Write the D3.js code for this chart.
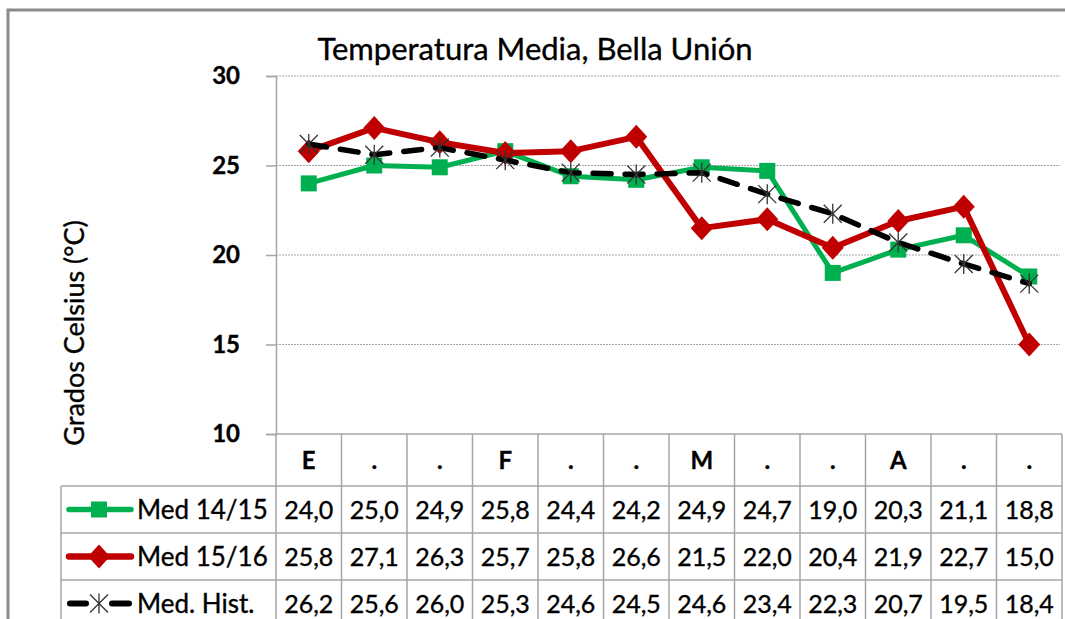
<!DOCTYPE html>
<html>
<head>
<meta charset="utf-8">
<script src="https://cdn.jsdelivr.net/npm/d3@7"></script>
<style>
  body { margin: 0; background: #fff; }
  text { font-family: Lato, "Open Sans", sans-serif; stroke: #000; stroke-width: 0.35px; }
</style>
</head>
<body>
<div id="chart"></div>
<script>
// categories (decades of months) and series
var cats = ["E", ".", ".", "F", ".", ".", "M", ".", ".", "A", ".", "."];
var med1415 = [24.0, 25.0, 24.9, 25.8, 24.4, 24.2, 24.9, 24.7, 19.0, 20.3, 21.1, 18.8];
var med1516 = [25.8, 27.1, 26.3, 25.7, 25.8, 26.6, 21.5, 22.0, 20.4, 21.9, 22.7, 15.0];
var medHist = [26.2, 25.6, 26.0, 25.3, 24.6, 24.5, 24.6, 23.4, 22.3, 20.7, 19.5, 18.4];
var yTicks = [10, 15, 20, 25, 30];
var seriesNames = ["Med 14/15", "Med 15/16", "Med. Hist."];

var W = 1065, H = 619;
var plotL = 276, plotR = 1062, plotT = 76, plotB = 434;
var rowH = 47, headH = 52;

var svg = d3.select("#chart").append("svg")
    .attr("width", W).attr("height", H);

// outer frame
svg.append("rect")
    .attr("x", 8).attr("y", 10)
    .attr("width", 1070).attr("height", 640)
    .attr("fill", "none")
    .attr("stroke", "#8a8a8a")
    .attr("stroke-width", 3);

var x = d3.scaleBand().domain(d3.range(cats.length)).range([plotL, plotR]).padding(0);
var y = d3.scaleLinear().domain([10, 30]).range([plotB, plotT]);
var cx = i => x(i) + x.bandwidth() / 2;

// title
svg.append("text")
    .attr("x", 535).attr("y", 60)
    .attr("text-anchor", "middle")
    .attr("font-size", 31)
    .text("Temperatura Media, Bella Unión");

// grid lines
svg.append("g").selectAll("line")
    .data(yTicks.filter(d => d > 10))
    .enter().append("line")
    .attr("x1", plotL).attr("x2", 1060)
    .attr("y1", d => y(d)).attr("y2", d => y(d))
    .attr("stroke", "#a6a6a6")
    .attr("stroke-width", 1)
    .attr("stroke-dasharray", "2,1");

// y axis
var yAxis = svg.append("g")
    .attr("transform", "translate(" + plotL + ",0)")
    .call(d3.axisLeft(y).tickValues(yTicks).tickSize(10).tickPadding(26).tickFormat(d3.format("d")));
yAxis.select(".domain").attr("stroke", "#a6a6a6").attr("stroke-width", 1.5);
yAxis.selectAll(".tick line").attr("stroke", "#a6a6a6").attr("stroke-width", 1.5);
yAxis.selectAll(".tick text")
    .attr("font-size", 24).attr("font-weight", "bold")
    .attr("fill", "#000")
    .style("font-family", "Lato, sans-serif");

// y axis title
svg.append("text")
    .attr("transform", "translate(84,333) rotate(-90)")
    .attr("text-anchor", "middle")
    .attr("font-size", 27)
    .text("Grados Celsius (°C)");

// data table lines
var tbl = svg.append("g").attr("stroke", "#a6a6a6").attr("stroke-width", 1.5);
tbl.append("line").attr("x1", plotL).attr("x2", plotR).attr("y1", plotB).attr("y2", plotB);
for (var r = 0; r <= 3; r++) {
    var yy = plotB + headH + r * rowH;
    tbl.append("line").attr("x1", 61).attr("x2", plotR).attr("y1", yy).attr("y2", yy);
}
d3.range(cats.length + 1).forEach(function (i) {
    var xx = i < cats.length ? x(i) : plotR;
    tbl.append("line").attr("x1", xx).attr("x2", xx).attr("y1", plotB).attr("y2", H + 10);
});
tbl.append("line").attr("x1", 61).attr("x2", 61).attr("y1", plotB + headH).attr("y2", H + 10);

// header (categories)
svg.append("g").selectAll("text")
    .data(cats).enter().append("text")
    .attr("x", (d, i) => cx(i))
    .attr("y", plotB + headH / 2 + 9)
    .attr("text-anchor", "middle")
    .attr("font-size", 24)
    .attr("font-weight", "bold")
    .text(d => d);

// series
var series = [
    { name: seriesNames[0], values: med1415, color: "#00b050", width: 5, dash: null, marker: "square" },
    { name: seriesNames[1], values: med1516, color: "#c00000", width: 6, dash: null, marker: "diamond" },
    { name: seriesNames[2], values: medHist, color: "#000", width: 5.5, dash: "18,14", marker: "star" }
];

var line = d3.line().x((d, i) => cx(i)).y(d => y(d));

function drawMarker(g, type, px, py, color) {
    if (type === "square") {
        g.append("rect").attr("x", px - 8).attr("y", py - 8)
            .attr("width", 16).attr("height", 16).attr("fill", color);
    } else if (type === "diamond") {
        g.append("path")
            .attr("d", "M" + px + "," + (py - 12) + "L" + (px + 11) + "," + py + "L" + px + "," + (py + 12) + "L" + (px - 11) + "," + py + "Z")
            .attr("fill", color);
    } else {
        var s = 9;
        g.append("path")
            .attr("d", "M" + (px - s) + "," + (py - s) + "L" + (px + s) + "," + (py + s) +
                "M" + (px - s) + "," + (py + s) + "L" + (px + s) + "," + (py - s) +
                "M" + px + "," + (py - s - 1) + "L" + px + "," + (py + s + 1))
            .attr("stroke", "#333").attr("stroke-width", 1.3).attr("fill", "none");
    }
}

series.forEach(function (s) {
    var g = svg.append("g");
    g.append("path")
        .datum(s.values)
        .attr("d", line)
        .attr("fill", "none")
        .attr("stroke", s.color)
        .attr("stroke-width", s.width)
        .attr("stroke-linejoin", "round")
        .attr("stroke-linecap", "round")
        .attr("stroke-dasharray", s.dash);
    s.values.forEach(function (v, i) { drawMarker(g, s.marker, cx(i), y(v), s.color); });
});

// table rows: legend keys and values
var fmt = v => v.toFixed(1).replace(".", ",");
series.forEach(function (s, r) {
    var rowMid = plotB + headH + r * rowH + rowH / 2;
    var g = svg.append("g");
    if (s.dash) {
        g.append("line").attr("x1", 70).attr("x2", 86).attr("y1", rowMid).attr("y2", rowMid)
            .attr("stroke", s.color).attr("stroke-width", s.width + 0.5).attr("stroke-linecap", "round");
        g.append("line").attr("x1", 112).attr("x2", 129).attr("y1", rowMid).attr("y2", rowMid)
            .attr("stroke", s.color).attr("stroke-width", s.width + 0.5).attr("stroke-linecap", "round");
    } else {
        g.append("line")
            .attr("x1", 69).attr("x2", 131)
            .attr("y1", rowMid).attr("y2", rowMid)
            .attr("stroke", s.color).attr("stroke-width", s.width + 0.5)
            .attr("stroke-linecap", "round");
    }
    drawMarker(g, s.marker, 99, rowMid, s.color);
    g.append("text")
        .attr("x", 137).attr("y", rowMid + 9)
        .attr("font-size", 26)
        .text(s.name);
    g.selectAll(".val")
        .data(s.values).enter().append("text")
        .attr("x", (d, i) => cx(i))
        .attr("y", rowMid + 9)
        .attr("text-anchor", "middle")
        .attr("font-size", 25)
        .text(d => fmt(d));
});
</script>
</body>
</html>
